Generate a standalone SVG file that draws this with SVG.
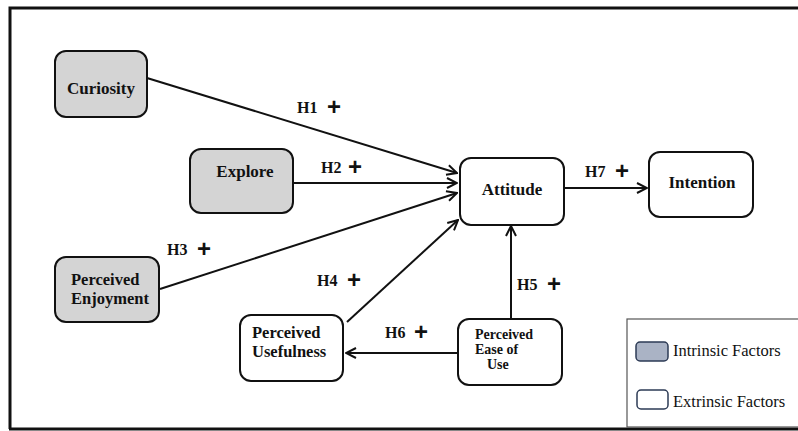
<svg xmlns="http://www.w3.org/2000/svg" width="798" height="431" viewBox="0 0 798 431">
<style>
.node rect{stroke:#111;stroke-width:2;}
.intr{fill:#d4d4d4;}
.extr{fill:#fff;}
text{font-family:'Liberation Serif','DejaVu Serif',serif;}
.nt{font-weight:bold;font-size:17px;fill:#111;}
.n2{font-size:16.5px;}
.hl{font-weight:bold;font-size:16px;fill:#111;}
.pl{font-family:'Liberation Sans','DejaVu Sans',sans-serif;font-weight:bold;font-size:24px;fill:#111;}
.lg{font-size:16.5px;fill:#111;}
#connectors line{stroke:#111;stroke-width:2;fill:none;marker-end:url(#arr);}
</style>
<defs>
<marker id="arr" viewBox="0 0 12 12" refX="11" refY="6" markerWidth="12" markerHeight="12" markerUnits="userSpaceOnUse" orient="auto">
<path d="M1,1 L11,6 L1,11" fill="none" stroke="#111" stroke-width="2"/>
</marker>
</defs>
<rect x="0" y="0" width="798" height="431" fill="#fff"/>
<path d="M10,429 L10,8 L800,8" fill="none" stroke="#111" stroke-width="3"/>
<line x1="9" y1="429" x2="798" y2="429" stroke="#111" stroke-width="3"/>

<g id="connectors">
<line x1="147" y1="78" x2="457" y2="173"/>
<line x1="293" y1="183" x2="457" y2="183"/>
<line x1="160" y1="289" x2="457" y2="193"/>
<line x1="347" y1="322" x2="458" y2="220"/>
<line x1="511" y1="319" x2="511" y2="226"/>
<line x1="458" y1="353" x2="346" y2="353"/>
<line x1="564" y1="188" x2="647" y2="188"/>
</g>

<g id="labels">
<text class="hl" x="297" y="113">H1</text><text class="pl" x="327" y="115">+</text>
<text class="hl" x="321" y="173">H2</text><text class="pl" x="348" y="175">+</text>
<text class="hl" x="167" y="255">H3</text><text class="pl" x="197" y="257">+</text>
<text class="hl" x="317" y="286">H4</text><text class="pl" x="347" y="288">+</text>
<text class="hl" x="517" y="290">H5</text><text class="pl" x="547" y="292">+</text>
<text class="hl" x="385" y="338">H6</text><text class="pl" x="414" y="340">+</text>
<text class="hl" x="585" y="177">H7</text><text class="pl" x="615" y="179">+</text>
</g>

<g id="curiosity" class="node">
<rect class="intr" x="55" y="51" width="92" height="66" rx="11"/>
<text class="nt" x="101" y="94" text-anchor="middle">Curiosity</text>
</g>
<g id="explore" class="node">
<rect class="intr" x="190" y="149" width="103" height="64" rx="11"/>
<text class="nt" x="245" y="177" text-anchor="middle">Explore</text>
</g>
<g id="enjoyment" class="node">
<rect class="intr" x="55" y="257" width="104" height="65" rx="11"/>
<text class="nt n2" x="71" y="285">Perceived</text>
<text class="nt n2" x="71" y="304">Enjoyment</text>
</g>
<g id="attitude" class="node">
<rect class="extr" x="460" y="158" width="104" height="67" rx="11"/>
<text class="nt" x="512" y="195" text-anchor="middle">Attitude</text>
</g>
<g id="intention" class="node">
<rect class="extr" x="649" y="152" width="104" height="65" rx="11"/>
<text class="nt" x="702" y="188" text-anchor="middle">Intention</text>
</g>
<g id="usefulness" class="node">
<rect class="extr" x="240" y="315" width="103" height="66" rx="11"/>
<text class="nt n2" x="252" y="338">Perceived</text>
<text class="nt n2" x="252" y="357">Usefulness</text>
</g>
<g id="ease" class="node">
<rect class="extr" x="458" y="319" width="104" height="66" rx="11"/>
<text class="nt" x="475" y="339" style="font-size:14px">Perceived</text>
<text class="nt" x="475" y="354" style="font-size:14px">Ease of</text>
<text class="nt" x="487" y="369" style="font-size:14px">Use</text>
</g>

<g id="legend">
<rect x="627" y="319" width="180" height="108" fill="#fff" stroke="#555" stroke-width="1.2"/>
<rect x="636" y="342" width="32" height="19" rx="4" fill="#aab3c5" stroke="#2d3b55" stroke-width="1.5"/>
<text class="lg" x="673" y="356">Intrinsic Factors</text>
<rect x="637" y="390" width="31" height="19" rx="4" fill="#fff" stroke="#2d3b55" stroke-width="1.5"/>
<text class="lg" x="673" y="407">Extrinsic Factors</text>
</g>
</svg>
